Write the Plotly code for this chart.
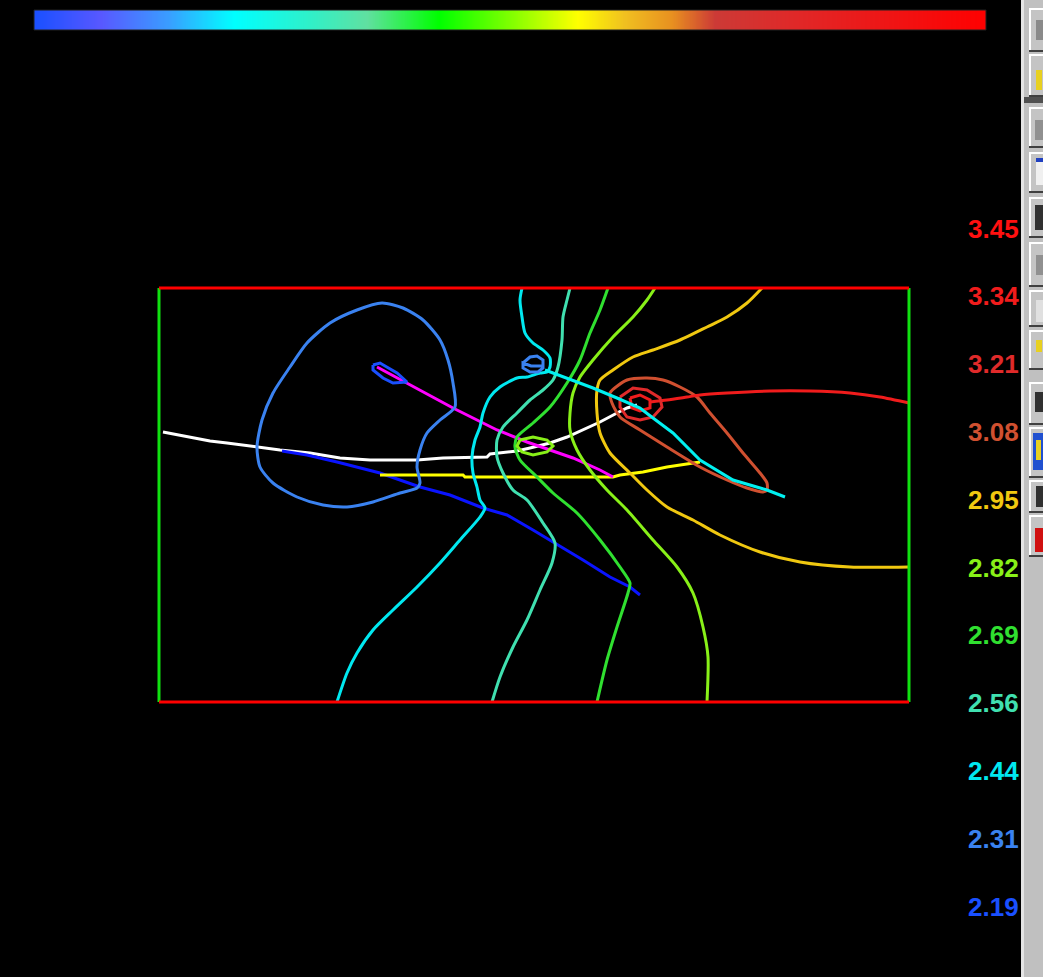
import numpy as np
import plotly.graph_objects as go

# ---- contour levels and their colours -------------------------------------
levels = [3.45, 3.34, 3.21, 3.08, 2.95, 2.82, 2.69, 2.56, 2.44, 2.31, 2.19]
level_colors = ["#ff1010", "#f01c1c", "#e02a2a", "#d05030", "#f0c810", "#88f018",
                "#30e030", "#40e0b0", "#00e8f0", "#3a82f0", "#1a50ff"]
color_of = dict(zip(levels, level_colors))

ramp_scale = [
    [0.00, "#1a50ff"], [0.07, "#5858ff"], [0.14, "#3a9cff"], [0.21, "#00ffff"],
    [0.29, "#30f0c8"], [0.35, "#60e0a0"], [0.425, "#00ff00"], [0.50, "#80ff00"],
    [0.571, "#ffff00"], [0.62, "#f0c020"], [0.67, "#e89020"], [0.715, "#cc3a36"],
    [0.80, "#e02828"], [1.00, "#ff0000"],
]

# survey area (metres): 750 x 414
area_w, area_h = 750, 414

# ---- profile / well lines --------------------------------------------------
white_x = [4, 21, 34, 51, 68, 98, 121, 151, 181, 211, 258, 284, 328, 331, 358, 371, 391, 408, 424, 441, 458, 468, 478]
white_y = [270, 267, 264, 261, 259, 255, 252, 249, 244, 242, 242, 244, 245, 248, 251, 254, 259, 265, 272, 280, 289, 294, 297]

blue_x = [123, 148, 178, 221, 261, 291, 324, 348, 374, 396, 424, 451, 471, 481]
blue_y = [251, 247, 240, 229, 215, 207, 194, 187, 172, 159, 142, 125, 115, 107]

yellow_x = [221, 304, 306, 381, 454, 461, 484, 508, 541]
yellow_y = [227, 227, 225, 225, 225, 227, 230, 235, 240]

magenta_x = [218, 248, 294, 338, 368, 391, 414, 441, 454]
magenta_y = [335, 319, 294, 272, 260, 252, 244, 232, 225]

cyan_x = [386, 408, 434, 458, 481, 494, 514, 541, 574, 608, 626]
cyan_y = [332, 324, 314, 304, 294, 284, 269, 242, 222, 212, 205]

# ---- isolines (level, x, y) -----------------------------------------------
iso_231_big = (2.31,
    [223, 244, 264, 281, 289, 294, 296, 281, 268, 261, 258, 261, 258, 241, 214, 188, 164, 138, 114, 101, 98, 103, 114, 131, 148, 171, 198, 223],
    [399, 394, 382, 362, 342, 319, 295, 282, 269, 252, 235, 219, 214, 209, 200, 195, 197, 205, 219, 235, 255, 282, 309, 335, 359, 379, 392, 399])
iso_219_small = (2.19,
    [214, 221, 238, 248, 234, 224, 214, 214],
    [337, 339, 329, 320, 319, 324, 332, 337])
iso_231_small = (2.31,
    [364, 371, 378, 384, 384, 379, 371, 364, 364, 372, 384],
    [339, 345, 346, 342, 334, 330, 330, 334, 339, 336, 336])
iso_244 = (2.44,
    [363, 361, 363, 366, 374, 384, 391, 391, 388, 381, 368, 358, 341, 331, 324, 321, 316, 313, 314, 318, 321, 326, 321, 301, 281, 258, 234, 214, 198, 188, 178],
    [414, 402, 385, 369, 359, 352, 344, 335, 330, 329, 325, 324, 315, 305, 289, 275, 262, 245, 229, 215, 202, 194, 185, 162, 139, 115, 92, 72, 49, 29, 0])
iso_256 = (2.56,
    [411, 408, 404, 403, 399, 394, 384, 371, 358, 344, 338, 338, 344, 354, 368, 384, 396, 393, 381, 368, 354, 341, 333],
    [414, 402, 385, 362, 335, 322, 312, 302, 289, 275, 262, 245, 229, 212, 202, 179, 159, 139, 112, 82, 55, 25, 0])
iso_269 = (2.69,
    [449, 441, 431, 421, 408, 391, 374, 358, 356, 361, 378, 394, 418, 441, 461, 471, 469, 458, 448, 438],
    [414, 392, 369, 342, 319, 295, 279, 265, 255, 242, 225, 209, 189, 162, 135, 119, 109, 75, 42, 0])
iso_282 = (2.82,
    [496, 488, 474, 454, 434, 421, 414, 411, 411, 418, 431, 448, 468, 494, 518, 534, 544, 549, 548],
    [414, 402, 385, 365, 342, 325, 309, 289, 272, 252, 232, 212, 192, 162, 135, 109, 75, 45, 0])
iso_282_small = (2.82,
    [361, 374, 388, 394, 388, 374, 363, 358, 361],
    [262, 265, 262, 256, 250, 247, 250, 256, 262])
iso_295 = (2.95,
    [603, 588, 568, 548, 521, 494, 474, 454, 441, 438, 438, 441, 451, 471, 488, 508, 534, 561, 601, 641, 691, 750],
    [414, 399, 385, 375, 362, 352, 345, 332, 322, 312, 289, 269, 249, 229, 212, 195, 182, 167, 150, 140, 135, 135])
iso_308 = (3.08,
    [451, 468, 488, 504, 521, 538, 551, 568, 584, 601, 608, 608, 604, 588, 568, 541, 508, 481, 461, 453, 451],
    [309, 322, 324, 322, 315, 305, 289, 269, 249, 229, 219, 212, 210, 214, 222, 235, 255, 272, 285, 299, 309])
iso_321 = (3.21,
    [461, 474, 488, 501, 503, 494, 481, 468, 461, 461],
    [305, 314, 312, 304, 295, 285, 282, 285, 295, 305])
iso_334_ring = (3.34,
    [471, 481, 491, 491, 481, 473, 471],
    [304, 307, 302, 294, 291, 294, 304])
iso_334_arm = (3.34,
    [491, 508, 528, 541, 568, 611, 651, 691, 721, 750],
    [300, 302, 305, 307, 309, 311, 311, 309, 305, 299])

# smooth isolines get a spline; small rings stay polygonal
smooth_isolines = [iso_231_big, iso_244, iso_256, iso_269, iso_282, iso_295, iso_308, iso_334_arm]
ring_isolines = [iso_219_small, iso_231_small, iso_282_small, iso_321, iso_334_ring]

fig = go.Figure()

LW = 3

# profile lines under the isolines
for xs, ys, col in [(white_x, white_y, "#ffffff"), (blue_x, blue_y, "#0a14ff"),
                    (yellow_x, yellow_y, "#ffff00"), (magenta_x, magenta_y, "#ff00ff")]:
    fig.add_trace(go.Scatter(x=xs, y=ys, mode="lines",
                             line=dict(color=col, width=LW), hoverinfo="skip"))

for lvl, xs, ys in smooth_isolines:
    fig.add_trace(go.Scatter(x=xs, y=ys, mode="lines",
                             line=dict(color=color_of[lvl], width=LW, shape="spline", smoothing=0.7),
                             hoverinfo="skip"))
for lvl, xs, ys in ring_isolines:
    fig.add_trace(go.Scatter(x=xs, y=ys, mode="lines",
                             line=dict(color=color_of[lvl], width=LW), hoverinfo="skip"))

fig.add_trace(go.Scatter(x=cyan_x, y=cyan_y, mode="lines",
                         line=dict(color="#00f0f0", width=LW), hoverinfo="skip"))

# area frame: red top/bottom, green sides
fig.add_trace(go.Scatter(x=[0, 0, None, area_w, area_w], y=[0, area_h, None, 0, area_h],
                         mode="lines", line=dict(color="#10e010", width=LW), hoverinfo="skip"))
fig.add_trace(go.Scatter(x=[0, area_w, None, 0, area_w], y=[area_h, area_h, None, 0, 0],
                         mode="lines", line=dict(color="#ff0000", width=LW), hoverinfo="skip"))

# level legend on the right
label_x = 809
label_top, label_step = 471, 67.8
fig.add_trace(go.Scatter(
    x=[label_x] * len(levels),
    y=[label_top - i * label_step for i in range(len(levels))],
    mode="text",
    text=[f"<b>{v:.2f}</b>" for v in levels],
    textposition="middle right",
    textfont=dict(family="Liberation Sans", size=26, color=level_colors),
    hoverinfo="skip", cliponaxis=False,
))

# colour ramp along the top
ramp = np.linspace(min(levels), max(levels), 400)
fig.add_trace(go.Heatmap(z=[ramp], x=ramp, y=[0], colorscale=ramp_scale,
                         zmin=min(levels), zmax=max(levels), showscale=False,
                         zsmooth="best", xaxis="x2", yaxis="y2", hoverinfo="skip"))

W, H = 1043, 977


def px(x):
    return x / W


def py(y):
    return 1 - y / H


shapes = []
# toolbar strip on the right edge
shapes.append(dict(type="rect", xref="paper", yref="paper", x0=px(1021), x1=1,
                   y0=0, y1=1, fillcolor="#c0c0c0", line_width=0, layer="above"))
shapes.append(dict(type="rect", xref="paper", yref="paper", x0=px(1021), x1=px(1024),
                   y0=0, y1=1, fillcolor="#e4e4e4", line_width=0, layer="above"))
shapes.append(dict(type="rect", xref="paper", yref="paper", x0=px(1024), x1=1,
                   y0=py(103), y1=py(97), fillcolor="#505050", line_width=0, layer="above"))
buttons = [(8, 52), (54, 97), (107, 148), (152, 193), (197, 238), (242, 287), (290, 327),
           (330, 370), (382, 425), (427, 478), (480, 513), (515, 557)]
for t, b in buttons:
    shapes.append(dict(type="rect", xref="paper", yref="paper", x0=px(1029), x1=1,
                       y0=py(b), y1=py(t), fillcolor="#c4c4c4", line_width=0, layer="above"))
    shapes.append(dict(type="rect", xref="paper", yref="paper", x0=px(1029), x1=px(1031),
                       y0=py(b), y1=py(t), fillcolor="#ffffff", line_width=0, layer="above"))
    shapes.append(dict(type="rect", xref="paper", yref="paper", x0=px(1029), x1=1,
                       y0=py(t + 2), y1=py(t), fillcolor="#ffffff", line_width=0, layer="above"))
    shapes.append(dict(type="rect", xref="paper", yref="paper", x0=px(1029), x1=1,
                       y0=py(b), y1=py(b - 2), fillcolor="#404040", line_width=0, layer="above"))

# small icon fragments visible on the buttons
icons = [
    (1036, 1043, 20, 40, "#8a8a8a"), (1036, 1042, 70, 90, "#e8d020"),
    (1035, 1043, 120, 140, "#909090"), (1036, 1043, 160, 185, "#f0f0f0"),
    (1036, 1043, 158, 162, "#2040c0"), (1035, 1043, 205, 230, "#303030"),
    (1036, 1043, 255, 275, "#909090"), (1036, 1043, 300, 322, "#e0e0e0"),
    (1036, 1042, 340, 352, "#e8d020"), (1035, 1043, 392, 412, "#303030"),
    (1033, 1043, 433, 470, "#2050d0"), (1036, 1041, 440, 460, "#e8d020"),
    (1036, 1043, 486, 507, "#303030"), (1035, 1043, 528, 552, "#d01010"),
]
for x0, x1, y0, y1, c in icons:
    shapes.append(dict(type="rect", xref="paper", yref="paper", x0=px(x0), x1=px(x1),
                       y0=py(y1), y1=py(y0), fillcolor=c, line_width=0, layer="above"))

# thin dark edge round the colour ramp
shapes.append(dict(type="rect", xref="paper", yref="paper", x0=px(34), x1=px(986),
                   y0=py(30), y1=py(10), line=dict(color="#202020", width=1),
                   fillcolor="rgba(0,0,0,0)", layer="above"))

fig.update_layout(
    width=W, height=H,
    margin=dict(l=0, r=0, t=0, b=0),
    paper_bgcolor="#000000", plot_bgcolor="#000000",
    showlegend=False,
    xaxis=dict(range=[-159, W - 159], domain=[0, 1], visible=False, fixedrange=True),
    yaxis=dict(range=[702 - H, 702], domain=[0, 1], visible=False, fixedrange=True),
    xaxis2=dict(domain=[px(34), px(986)], anchor="y2", visible=False,
                range=[min(levels), max(levels)]),
    yaxis2=dict(domain=[py(30), py(10)], anchor="x2", visible=False, range=[-0.5, 0.5]),
    shapes=shapes,
)

fig.write_html("out.html")
